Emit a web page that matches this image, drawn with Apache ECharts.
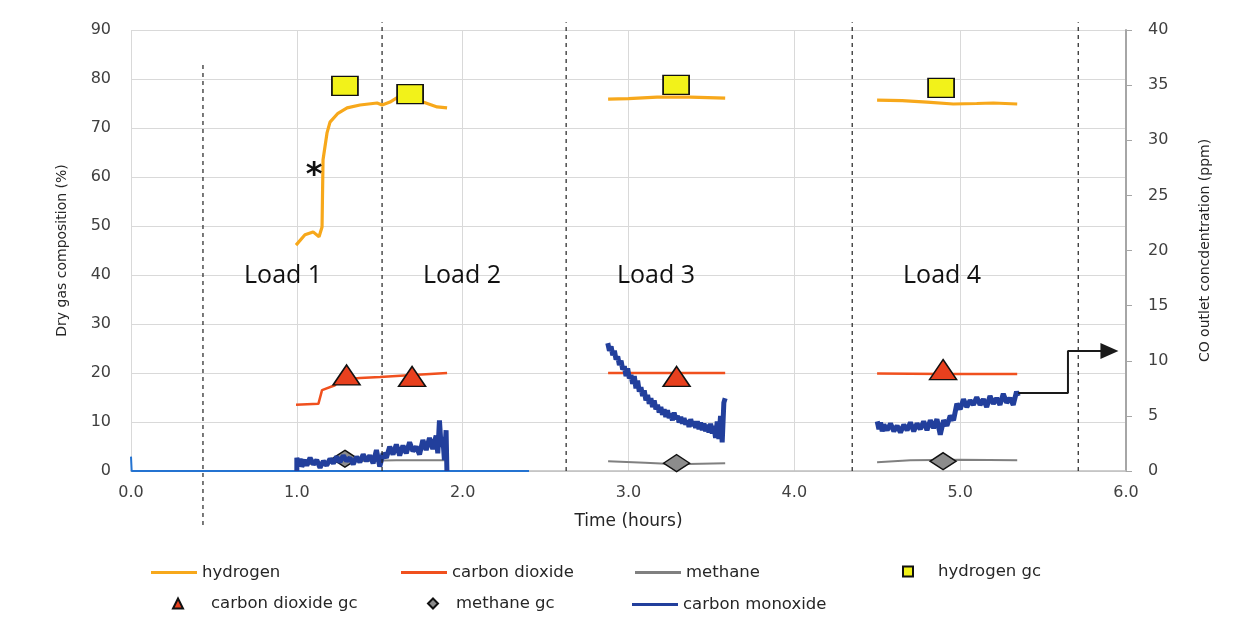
<!DOCTYPE html>
<html>
<head>
<meta charset="utf-8">
<script src="https://cdn.jsdelivr.net/npm/echarts@6/dist/echarts.min.js"></script>
<style>
html,body{margin:0;padding:0;background:#fff;}
#c{width:1235px;height:619px;}
</style>
</head>
<body>
<div id="c"></div>
<script>
// ---------- data (time in hours, left axis %, right axis ppm) ----------
const xTicks = [0, 1, 2, 3, 4, 5, 6];
const h2Load12 = [[0.995,46.1],[1.049,48.2],[1.098,48.8],[1.134,47.8],[1.152,49.8],[1.158,63.5],[1.182,69.0],[1.200,71.2],[1.248,73.0],[1.303,74.1],[1.381,74.7],[1.484,75.1],[1.514,74.7],[1.562,75.3],[1.610,76.3],[1.665,76.7],[1.761,75.3],[1.846,74.3],[1.906,74.1]];
const h2Load3 = [[2.877,75.9],[3.000,76.0],[3.172,76.3],[3.372,76.3],[3.583,76.1]];
const h2Load4 = [[4.499,75.7],[4.650,75.6],[4.800,75.3],[4.958,74.9],[5.100,75.0],[5.200,75.1],[5.344,74.9]];
const co2Load12 = [[0.995,13.5],[1.130,13.7],[1.140,14.1],[1.152,16.5],[1.230,17.5],[1.260,18.6],[1.381,19.0],[1.502,19.2],[1.700,19.6],[1.906,20.0]];
const co2Load3 = [[2.877,20.0],[3.200,20.0],[3.583,20.0]];
const co2Load4 = [[4.499,19.9],[4.900,19.8],[5.344,19.8]];
const ch4Load12 = [[1.000,1.2],[1.300,2.0],[1.600,2.2],[1.906,2.2]];
const ch4Load3 = [[2.877,2.0],[3.100,1.7],[3.290,1.4],[3.583,1.6]];
const ch4Load4 = [[4.499,1.8],[4.700,2.2],[5.000,2.3],[5.344,2.2]];
const h2GC = [[1.290,78.6],[1.683,76.9],[3.287,78.8],[4.885,78.2]];
const co2GC = [[1.300,19.6],[1.695,19.3],[3.290,19.3],[4.897,20.7]];
const ch4GC = [[1.290,2.5],[3.290,1.6],[4.897,2.0]];
const coBaseline = [[0.000,1.3],[0.004,0.0],[2.400,0.0]];
const coLoad12 = [[1.00,0.0],[1.00,1.2],[1.01,0.6],[1.02,1.1],[1.03,0.4],[1.05,1.0],[1.06,0.5],[1.08,1.2],[1.10,0.6],[1.12,1.0],[1.14,0.3],[1.16,0.9],[1.18,0.5],[1.20,1.1],[1.22,0.7],[1.24,1.3],[1.26,0.8],[1.28,1.4],[1.30,0.9],[1.32,1.2],[1.34,0.6],[1.36,1.3],[1.38,0.8],[1.40,1.5],[1.42,0.9],[1.44,1.4],[1.46,0.7],[1.48,1.9],[1.50,0.4],[1.52,1.6],[1.54,1.2],[1.56,2.2],[1.58,1.5],[1.60,2.4],[1.62,1.4],[1.64,2.3],[1.66,1.6],[1.68,2.6],[1.70,1.8],[1.72,2.2],[1.74,1.5],[1.76,2.8],[1.78,1.9],[1.80,3.0],[1.82,2.0],[1.84,3.2],[1.85,1.6],[1.86,4.6],[1.87,2.2],[1.88,3.1],[1.89,1.0],[1.90,3.7],[1.905,0.0]];
const coLoad3 = [[2.875,11.6],[2.885,10.9],[2.895,11.3],[2.905,10.5],[2.915,10.9],[2.925,10.1],[2.935,10.4],[2.945,9.6],[2.955,10.0],[2.965,9.2],[2.975,9.5],[2.985,8.6],[2.995,9.3],[3.005,8.4],[3.015,8.7],[3.025,7.9],[3.035,8.6],[3.045,7.5],[3.055,8.2],[3.065,7.2],[3.075,7.6],[3.085,6.8],[3.095,7.3],[3.105,6.4],[3.115,6.9],[3.125,6.1],[3.135,6.6],[3.145,5.8],[3.155,6.4],[3.165,5.6],[3.175,6.0],[3.185,5.3],[3.195,5.8],[3.205,5.1],[3.215,5.6],[3.225,4.9],[3.235,5.5],[3.245,4.8],[3.255,5.2],[3.265,4.6],[3.275,5.3],[3.285,4.7],[3.295,5.0],[3.305,4.4],[3.315,4.9],[3.325,4.3],[3.335,4.8],[3.345,4.2],[3.355,4.6],[3.365,4.0],[3.375,4.7],[3.385,4.1],[3.395,4.5],[3.405,3.9],[3.415,4.5],[3.425,3.8],[3.435,4.4],[3.445,3.7],[3.455,4.3],[3.465,3.6],[3.475,4.2],[3.485,3.5],[3.495,4.3],[3.505,3.4],[3.515,4.1],[3.525,3.0],[3.535,4.5],[3.545,2.9],[3.555,5.0],[3.565,2.6],[3.575,6.2],[3.583,6.6]];
const coLoad4 = [[4.50,4.5],[4.51,3.8],[4.52,4.4],[4.53,3.6],[4.54,4.2],[4.56,3.7],[4.58,4.3],[4.60,3.6],[4.62,4.1],[4.64,3.5],[4.66,4.2],[4.68,3.7],[4.70,4.4],[4.72,3.6],[4.74,4.3],[4.76,3.8],[4.78,4.5],[4.80,3.7],[4.82,4.6],[4.84,3.9],[4.86,4.7],[4.88,3.3],[4.90,4.6],[4.92,4.1],[4.94,5.0],[4.96,4.6],[4.98,6.1],[5.00,5.6],[5.02,6.5],[5.04,5.8],[5.06,6.4],[5.08,6.0],[5.10,6.7],[5.12,6.0],[5.14,6.5],[5.16,5.8],[5.18,6.8],[5.20,6.1],[5.22,6.6],[5.24,6.0],[5.26,7.0],[5.28,6.2],[5.30,6.6],[5.32,6.0],[5.34,7.2],[5.35,6.8]];
const dividerTimes = [0.434, 1.514, 2.624, 4.349, 5.712];
const dividerSpans = [[-11, 83.3], [0, 91.6], [0, 91.6], [0, 91.6], [0, 91.6]];
const arrowPath = [[5.35,15.9],[5.65,15.9],[5.65,24.5],[5.90,24.5]];
const loadLabels = ['Load 1', 'Load 2', 'Load 3', 'Load 4', '*'];
const loadLabelPos = [[0.917,39.8],[1.996,39.8],[3.166,39.8],[4.891,39.8],[1.104,61.0]];

// ---------- styles ----------
const C_H2 = '#f7a81b', C_CO2 = '#f0501e', C_CH4 = '#808080', C_CO = '#223f9c';
const FONT = 'DejaVu Sans';

function lineSeries(name, data, color, width, yIdx, z) {
  return { name, type: 'line', data, yAxisIndex: yIdx || 0, symbol: 'none', z: z || 2,
    lineStyle: { color, width }, itemStyle: { color }, silent: true };
}

const series = [];
[h2Load12, h2Load3, h2Load4].forEach(d => series.push(lineSeries('hydrogen', d, C_H2, 3.2)));
[co2Load12, co2Load3, co2Load4].forEach(d => series.push(lineSeries('carbon dioxide', d, C_CO2, 2.5)));
[ch4Load12, ch4Load3, ch4Load4].forEach(d => series.push(lineSeries('methane', d, C_CH4, 2)));
series.push({ name: 'methane gc', type: 'scatter', data: ch4GC, symbol: 'diamond', symbolSize: [26, 17], z: 3,
  itemStyle: { color: '#8c8c8c', borderColor: '#111', borderWidth: 1.5, opacity: 1 } });
series.push(lineSeries('co baseline', coBaseline, '#2473d1', 2, 1, 4));
[coLoad12, coLoad3, coLoad4].forEach(d => series.push(lineSeries('carbon monoxide', d, C_CO, 5, 1, 4)));
series.push({ name: 'hydrogen gc', type: 'scatter', data: h2GC, symbol: 'rect', symbolSize: [26, 19], z: 5,
  itemStyle: { color: '#f2f21a', borderColor: '#111', borderWidth: 1.5, opacity: 1 } });
series.push({ name: 'carbon dioxide gc', type: 'scatter', data: co2GC, symbol: 'triangle', symbolSize: [27, 20], z: 5,
  itemStyle: { color: '#e8401e', borderColor: '#111', borderWidth: 1.5, opacity: 1 } });
dividerTimes.forEach((t, i) => series.push({ name: 'divider', type: 'line', clip: false, symbol: 'none', z: 6, silent: true,
  data: [[t, dividerSpans[i][0]], [t, dividerSpans[i][1]]],
  lineStyle: { color: '#222', width: 1.2, type: [4, 4] } }));
series.push({ name: 'arrow', type: 'line', clip: false, z: 6, silent: true, symbol: 'none',
  data: arrowPath.map((p, i) => i === arrowPath.length - 1
    ? { value: p, symbol: 'triangle', symbolSize: [16, 18], symbolRotate: -90 }
    : { value: p, symbol: 'none' }),
  lineStyle: { color: '#1a1a1a', width: 2 }, itemStyle: { color: '#1a1a1a' } });
series.push({ name: 'labels', type: 'scatter', z: 7, silent: true, symbolSize: 1,
  itemStyle: { color: '#000', opacity: 0 },
  data: loadLabels.map((n, i) => ({ name: n, value: loadLabelPos[i],
    label: n === '*' ? { fontSize: 32, fontFamily: FONT, fontWeight: 'bold', offset: [0, 4] } : {} })),
  label: { show: true, position: 'inside', formatter: '{b}', color: '#111', opacity: 1,
    fontFamily: 'Open Sans', fontSize: 25 } });

function leg(name, left, top, opts) {
  return Object.assign({ data: [name], left, top, padding: 0, itemGap: 0, selectedMode: false,
    itemWidth: 46, itemHeight: 3, icon: 'rect',
    textStyle: { fontFamily: FONT, fontSize: 16.5, color: '#262626' } }, opts || {});
}
const legends = [
  leg('hydrogen', 151, 564),
  leg('carbon dioxide', 401, 564),
  leg('methane', 635, 564),
  leg('hydrogen gc', 902, 563, { itemWidth: 10, itemHeight: 10, icon: 'rect',
    textStyle: { fontFamily: FONT, fontSize: 16.5, color: '#262626', padding: [0, 0, 0, 20] } }),
  leg('carbon dioxide gc', 172, 595, { itemWidth: 10, itemHeight: 10, icon: 'triangle',
    textStyle: { fontFamily: FONT, fontSize: 16.5, color: '#262626', padding: [0, 0, 0, 23] } }),
  leg('methane gc', 427, 595, { itemWidth: 10, itemHeight: 10, icon: 'diamond',
    textStyle: { fontFamily: FONT, fontSize: 16.5, color: '#262626', padding: [0, 0, 0, 13] } }),
  leg('carbon monoxide', 632, 596)
];

const chart = echarts.init(document.getElementById('c'), null, { renderer: 'canvas' });
chart.setOption({
  animation: false,
  backgroundColor: '#fff',
  grid: { left: 131, right: 109, top: 30, bottom: 148, containLabel: false },
  legend: legends,
  xAxis: {
    type: 'value', min: xTicks[0], max: xTicks[xTicks.length - 1], interval: 1,
    name: 'Time (hours)', nameLocation: 'middle', nameGap: 42,
    nameTextStyle: { fontFamily: FONT, fontSize: 17, color: '#262626' },
    axisLine: { lineStyle: { color: '#bfbfbf', width: 1.5 } },
    axisTick: { show: false },
    axisLabel: { margin: 14, fontFamily: FONT, fontSize: 16, color: '#404040', formatter: v => v.toFixed(1) },
    splitLine: { show: true, lineStyle: { color: '#d9d9d9', width: 1 } }
  },
  yAxis: [
    { type: 'value', min: 0, max: 90, interval: 10, position: 'left',
      name: 'Dry gas composition (%)', nameLocation: 'middle', nameGap: 62, nameRotate: 90,
      nameTextStyle: { fontFamily: FONT, fontSize: 14, color: '#262626' },
      axisLine: { show: false }, axisTick: { show: false },
      axisLabel: { margin: 20, fontFamily: FONT, fontSize: 16, color: '#404040' },
      splitLine: { show: true, lineStyle: { color: '#d9d9d9', width: 1 } } },
    { type: 'value', min: 0, max: 40, interval: 5, position: 'right',
      name: 'CO outlet concdentration (ppm)', nameLocation: 'middle', nameGap: 72, nameRotate: 90,
      nameTextStyle: { fontFamily: FONT, fontSize: 14, color: '#262626' },
      axisLine: { show: true, lineStyle: { color: '#a6a6a6', width: 2 } },
      axisTick: { show: true, inside: false, length: 6, lineStyle: { color: '#a6a6a6', width: 1 } },
      axisLabel: { margin: 22, fontFamily: FONT, fontSize: 16, color: '#404040' },
      splitLine: { show: false } }
  ],
  series
});
</script>
</body>
</html>
